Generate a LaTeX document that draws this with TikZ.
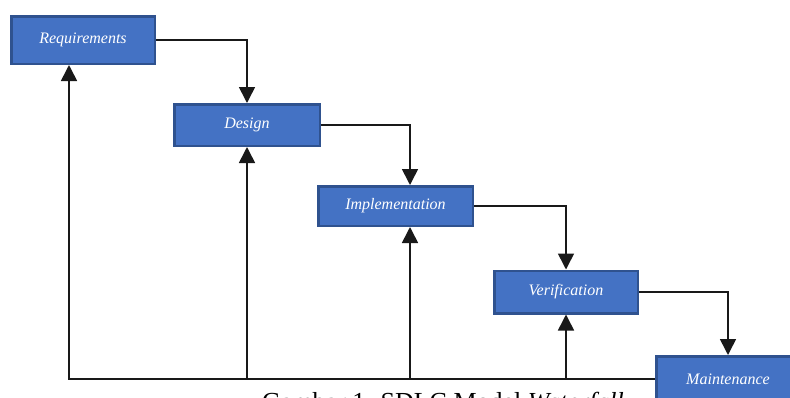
\documentclass[tikz,border=0pt]{standalone}
\usepackage{fontspec}
\setmainfont{Liberation Serif}
\usetikzlibrary{arrows.meta}
\definecolor{phasefill}{HTML}{4472C4}
\definecolor{phaseline}{HTML}{2F528F}
\tikzset{
  phase/.style={draw=phaseline,fill=phasefill,line width=2.5pt,text=white,
    font=\fontsize{16}{19}\selectfont\itshape,inner sep=0pt},
  flow/.style={line width=1.6pt,draw=black!90,-{Triangle[width=16pt,length=16pt]}}
}
\begin{document}
\begin{tikzpicture}[x=1pt,y=-1pt]
\clip (0,0) rectangle (790,397);
\node[phase,minimum width=143.5pt,minimum height=47.5pt] (req) at (83,40) {Requirements};
\node[phase,minimum width=145.5pt,minimum height=41.5pt] (des) at (247,125) {Design};
\node[phase,minimum width=154.5pt,minimum height=39.5pt] (imp) at (395.5,206) {Implementation};
\node[phase,minimum width=143.5pt,minimum height=42.5pt] (ver) at (566,292) {Verification};
\node[phase,minimum width=143.5pt,minimum height=45.5pt] (mnt) at (728,379) {Maintenance};
\node[anchor=base west,inner sep=0pt,font=\fontsize{26}{30}\selectfont] (cap) at (262,410)
  {Gambar 1. SDLC Model \textit{Waterfall}};
\coordinate (fb) at (69,0);
\draw[flow] (req.east) -| (des.north);
\draw[flow] (des.east) -| ([xshift=14.5pt]imp.north);
\draw[flow] (imp.east) -| (ver.north);
\draw[flow] (ver.east) -| (mnt.north);
\draw[flow] (mnt.west) -| (fb |- req.south);
\draw[flow] (des.south |- mnt.west) -- (des.south);
\draw[flow] ([xshift=14.5pt]imp.south |- mnt.west) -- ([xshift=14.5pt]imp.south);
\draw[flow] (ver.south |- mnt.west) -- (ver.south);
\end{tikzpicture}
\end{document}
